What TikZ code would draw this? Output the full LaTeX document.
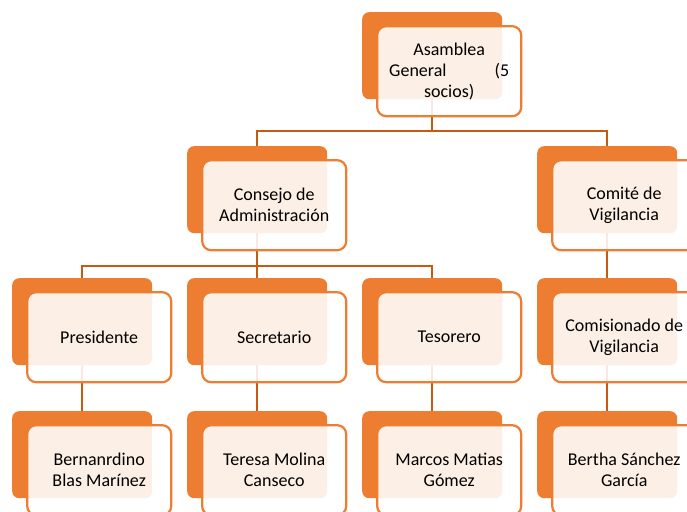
\documentclass[tikz,border=0pt]{standalone}
\usepackage{fontspec}
\setmainfont{Carlito}
\usetikzlibrary{positioning,calc}

\definecolor{accent}{HTML}{ED7D31}
\definecolor{accentdark}{HTML}{C55A11}

\begin{document}
\begin{tikzpicture}[%
    x=1pt, y=-1pt,
    on grid,
    back/.style={rectangle, rounded corners=7pt, fill=accent,
      minimum width=140pt, minimum height=87pt, inner sep=0pt,
      anchor=north west},
    front/.style={rectangle, rounded corners=9pt, draw=accent,
      line width=2.2pt, fill=white, fill opacity=0.88, text opacity=1,
      minimum width=144pt, minimum height=90pt, align=center,
      font=\fontsize{18}{21}\selectfont,
      below right=15.5pt and 17pt of #1},
    link/.style={draw=accentdark, line width=2pt}
  ]
  \clip (0,0) rectangle (687,511);

  % back boxes
  \node[back] (asm) at (362,12) {};
  \node[back] (cons) at (187,146) {};
  \node[back] (comi) at (537,146) {};
  \node[back] (pres) at (12,278) {};
  \node[back] (secr) at (187,278) {};
  \node[back] (teso) at (362,278) {};
  \node[back] (comis) at (537,278) {};
  \node[back] (bern) at (12,411) {};
  \node[back] (tere) at (187,411) {};
  \node[back] (marc) at (362,411) {};
  \node[back] (bert) at (537,411) {};

  % connectors
  \draw[link] (asm.south) -- ++(0,32) -| (cons.north);
  \draw[link] (asm.south) -- ++(0,32) -| (comi.north);
  \draw[link] (cons.south) -- ++(0,33) -| (pres.north);
  \draw[link] (cons.south) -- ++(0,33) -| (secr.north);
  \draw[link] (cons.south) -- ++(0,33) -| (teso.north);
  \draw[link] (comi.south) -- (comis.north);
  \draw[link] (pres.south) -- (bern.north);
  \draw[link] (secr.south) -- (tere.north);
  \draw[link] (teso.south) -- (marc.north);
  \draw[link] (comis.south) -- (bert.north);

  % front boxes
  \node[front=asm] (asmT) {Asamblea\\\makebox[120pt]{General\hfill(5}\\socios)};
  \node[front=cons] (consT) {Consejo de\\Administración};
  \node[front=comi] (comiT) {Comité de\\Vigilancia};
  \node[front=pres] (presT) {Presidente};
  \node[front=secr] (secrT) {Secretario};
  \node[front=teso] (tesoT) {Tesorero};
  \node[front=comis] (comisT) {Comisionado de\\Vigilancia};
  \node[front=bern] (bernT) {Bernanrdino\\Blas Marínez};
  \node[front=tere] (tereT) {Teresa Molina\\Canseco};
  \node[front=marc] (marcT) {Marcos Matias\\Gómez};
  \node[front=bert] (bertT) {Bertha Sánchez\\García};
\end{tikzpicture}
\end{document}
